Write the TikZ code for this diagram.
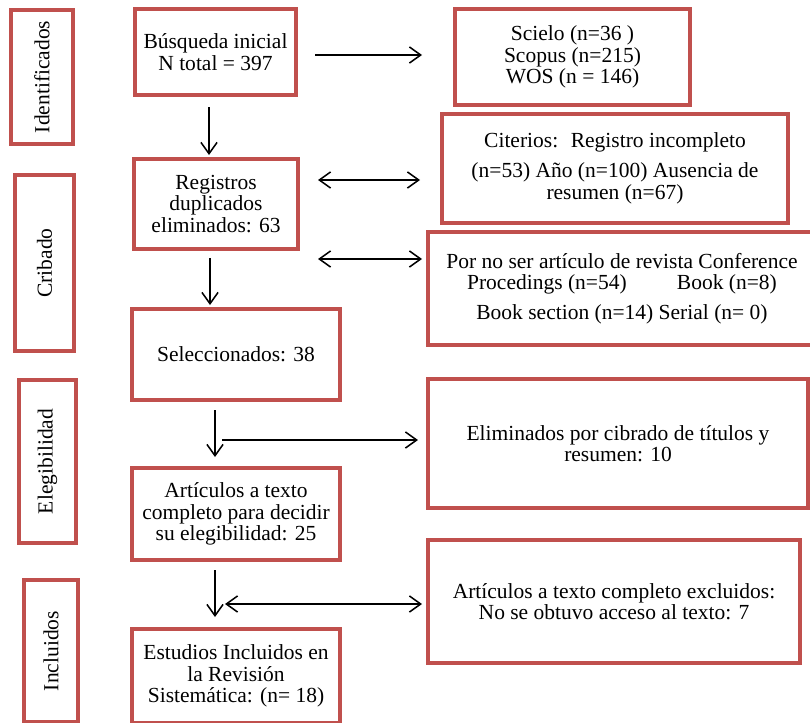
\documentclass[tikz,border=0pt]{standalone}
\usepackage{fontspec}
\setmainfont{Liberation Serif}
\usetikzlibrary{arrows.meta, calc}

\definecolor{boxred}{HTML}{C0504D}

\tikzset{
    block/.style 2 args={rectangle, draw=boxred, line width=2pt, align=center, inner sep=0pt, outer sep=0pt, minimum width=#1*0.558pt, minimum height=#2*0.558pt},
    phase/.style 2 args={rectangle, draw=boxred, line width=2pt, align=center, inner sep=0pt, outer sep=0pt, minimum width=#2*0.558pt, minimum height=#1*0.558pt, rotate=90},
    line/.style={draw, ->, line width=0.85pt},
    dline/.style={draw, <->, line width=0.85pt}
}

\begin{document}
\begin{tikzpicture}[
    x=0.558pt, y=-0.558pt,
    >={Straight Barb[length=6.3pt,width=9pt]},
    font=\fontsize{12}{12}\selectfont
]
    \useasboundingbox (0,0) rectangle (810,722);

    % Phases
    \node [phase={62}{134}] (idf) at (42,77) {Identificados};
    \node [phase={59}{176}] (crib) at (44.5,263) {Cribado};
    \node [phase={57}{163}] (eleg) at (47.5,461.5) {Elegibilidad};
    \node [phase={54}{142}] (incl) at (51,651) {Incluidos};

    % Nodes
    \node [block={161}{86}] (busq) at (215.5,52) {Búsqueda inicial\\N total = 397};
    \node [block={164}{90}] (regis) at (216,204) {Registros\\duplicados\\eliminados: 63};
    \node [block={208}{91}] (selec) at (236,354.5) {Seleccionados: 38};
    \node [block={208}{92}] (artic) at (236,514) {Artículos a texto\\completo para decidir\\su elegibilidad: 25};
    \node [block={208}{94}] (estud) at (236,676) {Estudios Incluidos en\\la Revisión\\Sistemática: (n= 18)};

    \node [block={235}{96}] (scielo) at (572.5,57) {Scielo (n=36 )\\Scopus (n=215)\\WOS (n = 146)};
    \node [block={346}{109}] (crit) at (615,168.5) {Citerios:~ Registro incompleto\\[4.7pt](n=53) Año (n=100) Ausencia de\\resumen (n=67)};
    \node [block={388}{113}] (porno) at (622,288.5) {Por no ser artículo de revista Conference\\Procedings (n=54)\hspace{28pt}Book (n=8)\\[4.5pt]Book section (n=14) Serial (n= 0)};
    \node [block={380}{129}] (elim) at (618,443.5) {Eliminados por cibrado de títulos y\\resumen: 10};
    \node [block={372}{123}] (excl) at (614,601.5) {Artículos a texto completo excluidos:\\No se obtuvo acceso al texto: 7};

    % Connections
    \path [line] ($(busq.east)+(19,3)$) -- ($(scielo.west)+(-33,-2)$);
    \path [line] ($(busq.south)+(-6.5,12)$) -- ($(regis.north)+(-7,-4)$);
    \path [dline] ($(regis.east)+(20,-24)$) -- ($(crit.west)+(-22,11.5)$);
    \path [dline] ($(regis.east)+(20,55)$) -- ($(porno.west)+(-6,-29.5)$);
    \path [line] ($(regis.south)+(-6,9)$) -- ($(selec.north)+(-26,-4)$);

    \path [line] ($(selec.south)+(-21,10)$) -- ($(artic.north)+(-21,-11)$);
    \path [line] ($(selec.south)+(-14,40)$) -- ($(elim.west)+(-10,-3.5)$);
    \path [line] ($(artic.south)+(-21,10)$) -- ($(estud.north)+(-21,-12)$);
    \path [dline] ($(artic.south)+(-11,44)$) -- ($(excl.west)+(-6,2.5)$);

\end{tikzpicture}
\end{document}
